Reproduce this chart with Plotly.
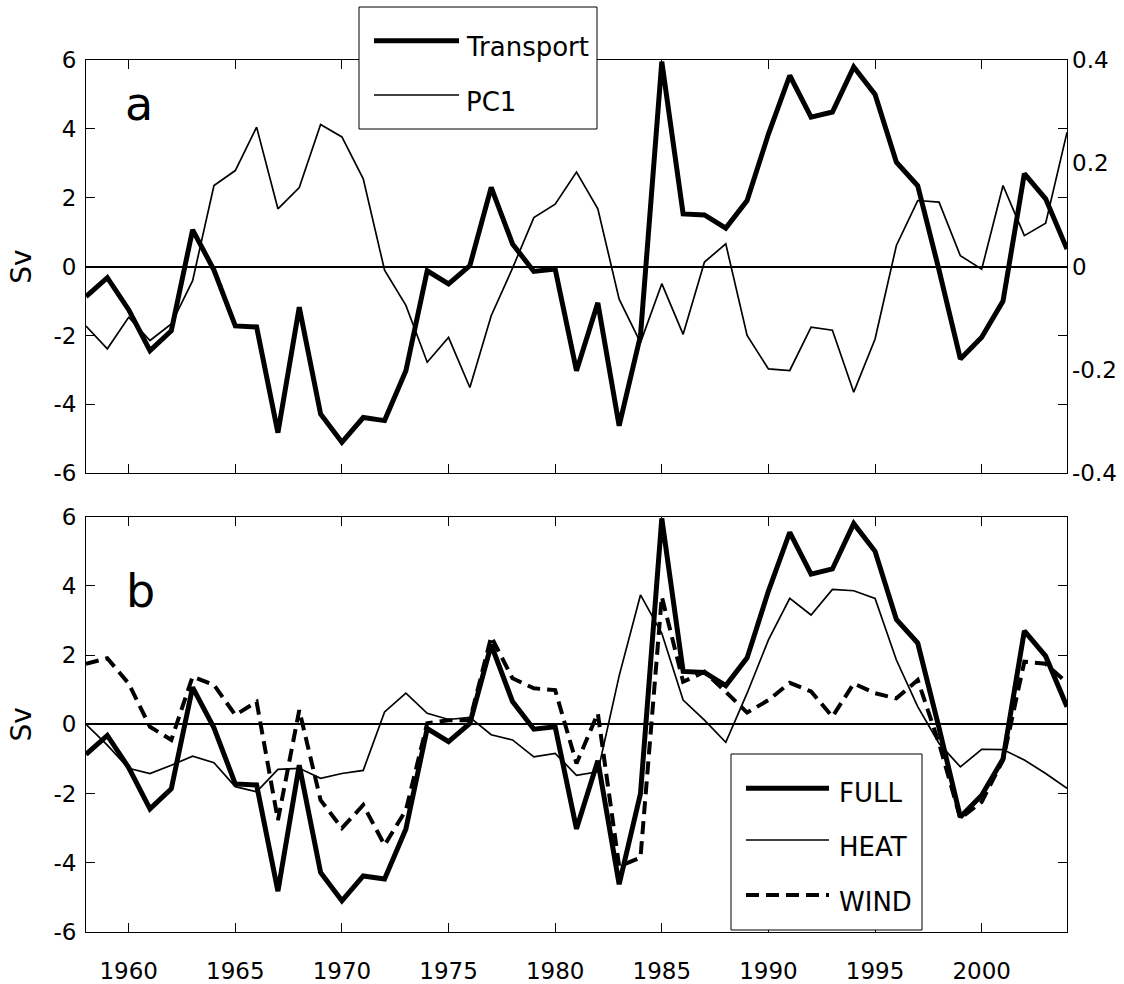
import plotly.graph_objects as go

# ---------------- data ----------------
years = list(range(1958, 2005))

transport = [-0.87, -0.32, -1.25, -2.44, -1.86, 1.07, -0.10, -1.72, -1.75, -4.82,
             -1.18, -4.28, -5.10, -4.38, -4.47, -3.02, -0.12, -0.50, 0.03, 2.30,
             0.66, -0.14, -0.07, -3.02, -1.05, -4.62, -2.00, 5.95, 1.53, 1.50,
             1.12, 1.92, 3.85, 5.55, 4.34, 4.49, 5.80, 5.00, 3.03, 2.35,
             -0.10, -2.68, -2.05, -1.00, 2.70, 1.97, 0.51]

pc1 = [-0.115, -0.159, -0.098, -0.143, -0.111, -0.027, 0.157, 0.186, 0.270, 0.112,
       0.153, 0.275, 0.251, 0.170, -0.007, -0.075, -0.185, -0.137, -0.234, -0.095,
       -0.003, 0.095, 0.121, 0.183, 0.112, -0.063, -0.147, -0.033, -0.131, 0.009,
       0.044, -0.133, -0.198, -0.201, -0.117, -0.123, -0.243, -0.140, 0.041, 0.128,
       0.125, 0.021, -0.005, 0.157, 0.060, 0.084, 0.260]

full = transport

heat = [0.00, -0.60, -1.27, -1.42, -1.18, -0.92, -1.11, -1.80, -1.95, -1.30,
        -1.27, -1.56, -1.42, -1.33, 0.36, 0.90, 0.32, 0.14, 0.20, -0.30,
        -0.45, -0.94, -0.84, -1.47, -1.37, 1.40, 3.74, 2.63, 0.70, 0.12,
        -0.52, 0.90, 2.44, 3.64, 3.16, 3.90, 3.86, 3.64, 1.86, 0.51,
        -0.55, -1.23, -0.72, -0.73, -1.03, -1.42, -1.85]

wind = [1.75, 1.91, 1.18, -0.07, -0.45, 1.38, 1.14, 0.27, 0.65, -2.77,
        0.41, -2.19, -3.00, -2.33, -3.49, -2.48, 0.03, 0.12, 0.12, 2.53,
        1.33, 1.04, 0.99, -1.13, 0.32, -4.10, -3.85, 3.69, 1.23, 1.52,
        0.94, 0.34, 0.70, 1.20, 0.95, 0.22, 1.18, 0.90, 0.75, 1.28,
        -0.55, -2.72, -2.24, -1.03, 1.81, 1.75, 1.20]

x_tickvals = [1960, 1965, 1970, 1975, 1980, 1985, 1990, 1995, 2000]
x_ticktext = ["1960", "1965", "1970", "1975", "1980", "1985", "1990", "1995", "2000"]
y_tickvals = [-6, -4, -2, 0, 2, 4, 6]
y_ticktext = ["-6", "-4", "-2", "0", "2", "4", "6"]
y2_tickvals = [-0.4, -0.2, 0, 0.2, 0.4]
y2_ticktext = ["-0.4", "-0.2", "0", "0.2", "0.4"]

# ---------------- layout helpers ----------------
W, H = 1124, 984
ML, MR, MT, MB = 86, 57, 60, 52
PW, PH = W - ML - MR, H - MT - MB
FONT = "DejaVu Sans"


def px(x):
    return (x - ML) / PW


def py(y):
    return (H - MB - y) / PH


THICK = 5
THIN = 1.7

fig = go.Figure()
fig.add_trace(go.Scatter(x=years, y=transport, mode="lines", name="Transport",
                         line=dict(color="black", width=THICK), xaxis="x", yaxis="y"))
fig.add_trace(go.Scatter(x=years, y=pc1, mode="lines", name="PC1",
                         line=dict(color="black", width=THIN), xaxis="x", yaxis="y2"))
fig.add_trace(go.Scatter(x=years, y=full, mode="lines", name="FULL",
                         line=dict(color="black", width=THICK), xaxis="x2", yaxis="y3"))
fig.add_trace(go.Scatter(x=years, y=heat, mode="lines", name="HEAT",
                         line=dict(color="black", width=THIN), xaxis="x2", yaxis="y3"))
fig.add_trace(go.Scatter(x=years, y=wind, mode="lines", name="WIND",
                         line=dict(color="black", width=4, dash="13px,7px"), xaxis="x2", yaxis="y3"))

tickfont = dict(family=FONT, size=23, color="black")
common_x = dict(range=[1958, 2004], tickvals=x_tickvals, ticktext=x_ticktext,
                ticks="inside", ticklen=9, tickwidth=1, tickcolor="black",
                showline=True, linecolor="black", linewidth=1, mirror="ticks",
                showgrid=False, zeroline=False, tickfont=tickfont, automargin=False)
common_y = dict(range=[-6, 6], tickvals=y_tickvals, ticktext=y_ticktext,
                ticks="inside", ticklen=9, tickwidth=1, tickcolor="black",
                showline=True, linecolor="black", linewidth=1, mirror="ticks",
                showgrid=False, zeroline=True, zerolinecolor="black", zerolinewidth=2,
                tickfont=tickfont, automargin=False, ticklabelstandoff=4,
                title=dict(text="Sv", font=dict(family=FONT, size=28, color="black"), standoff=13))

top_dom = [py(473.3), 1.0]
bot_dom = [0.0, py(516.7)]

fig.update_layout(
    width=W, height=H, template=None,
    paper_bgcolor="white", plot_bgcolor="white",
    margin=dict(l=ML, r=MR, t=MT, b=MB),
    showlegend=False,
    font=dict(family=FONT, color="black"),
    xaxis=dict(common_x, anchor="y", domain=[0, 1], showticklabels=False),
    yaxis=dict(common_y, anchor="x", domain=top_dom),
    yaxis2=dict(range=[-0.4, 0.4], tickvals=y2_tickvals, ticktext=y2_ticktext,
                overlaying="y", side="right", anchor="x", ticks="", showline=False,
                showgrid=False, zeroline=False, tickfont=tickfont, automargin=False,
                ticklabelstandoff=4),
    xaxis2=dict(common_x, anchor="y3", domain=[0, 1], showticklabels=True,
                ticklabelstandoff=18),
    yaxis3=dict(common_y, anchor="x2", domain=bot_dom),
)

shapes = []
annotations = []

# panel letters
annotations.append(dict(x=px(139), y=py(104), xref="paper", yref="paper", text="a",
                        showarrow=False, xanchor="center", yanchor="middle",
                        font=dict(family=FONT, size=46, color="black")))
annotations.append(dict(x=px(140), y=py(591), xref="paper", yref="paper", text="b",
                        showarrow=False, xanchor="center", yanchor="middle",
                        font=dict(family=FONT, size=46, color="black")))

legfont = dict(family=FONT, size=26, color="black")

# legend for panel a
shapes.append(dict(type="rect", xref="paper", yref="paper", x0=px(359), x1=px(597),
                   y0=py(129), y1=py(7), line=dict(color="black", width=1),
                   fillcolor="white", layer="above"))
leg_a = [("Transport", THICK, None, 40.7, 47.4), ("PC1", THIN, None, 95, 102.4)]
for name, w, dash, ly, ty in leg_a:
    shapes.append(dict(type="line", xref="paper", yref="paper", x0=px(374), x1=px(459),
                       y0=py(ly), y1=py(ly), line=dict(color="black", width=w), layer="above"))
    annotations.append(dict(x=px(464), y=py(ty), xref="paper", yref="paper", text=name,
                            showarrow=False, xanchor="left", yanchor="middle", font=legfont))

# legend for panel b
shapes.append(dict(type="rect", xref="paper", yref="paper", x0=px(731), x1=px(922),
                   y0=py(930), y1=py(754), line=dict(color="black", width=1),
                   fillcolor="white", layer="above"))
leg_b = [("FULL", THICK, None, 788.3, 793.4), ("HEAT", THIN, None, 840, 847.4),
         ("WIND", 4, "13px,7px", 895, 902.4)]
for name, w, dash, ly, ty in leg_b:
    ld = dict(color="black", width=w)
    if dash:
        ld["dash"] = dash
    shapes.append(dict(type="line", xref="paper", yref="paper", x0=px(746), x1=px(829),
                       y0=py(ly), y1=py(ly), line=ld, layer="above"))
    annotations.append(dict(x=px(837), y=py(ty), xref="paper", yref="paper", text=name,
                            showarrow=False, xanchor="left", yanchor="middle", font=legfont))

fig.update_layout(shapes=shapes, annotations=annotations)

fig.write_html("out.html")
